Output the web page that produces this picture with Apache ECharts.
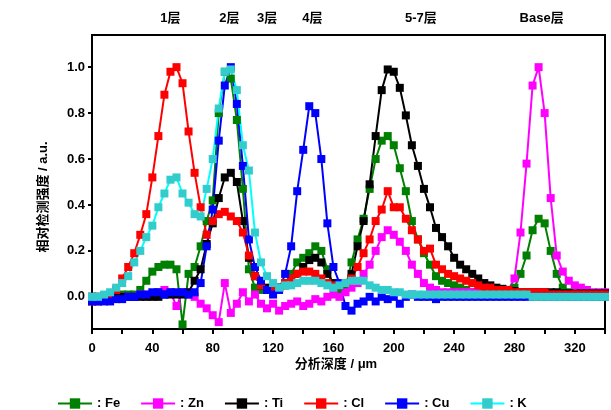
<!DOCTYPE html>
<html>
<head>
<meta charset="utf-8">
<script src="https://cdn.jsdelivr.net/npm/echarts@6/dist/echarts.min.js"></script>
<style type="text/css">
  html, body { margin:0; padding:0; background:#fff; }
  #chart { width:611px; height:410px; }
</style>
</head>
<body>
<div id="chart"></div>
<script type="text/javascript">
// 分析深度 (μm)
var depth = [0,4,8,12,16,20,24,28,32,36,
  40,44,48,52,56,60,64,68,72,76,
  80,84,88,92,96,100,104,108,112,116,
  120,124,128,132,136,140,144,148,152,156,
  160,164,168,172,176,180,184,188,192,196,
  200,204,208,212,216,220,224,228,232,236,
  240,244,248,252,256,260,264,268,272,276,
  280,284,288,292,296,300,304,308,312,316,
  320,324,328,332,336,340];

// 相对检测强度
var fe = [0.00,0.00,0.00,0.00,0.00,0.01,0.01,0.01,0.03,0.07,
  0.11,0.13,0.14,0.14,0.12,-0.12,0.10,0.13,0.22,0.33,
  0.42,0.80,0.98,0.95,0.77,0.47,0.12,0.04,0.03,0.03,
  0.03,0.04,0.06,0.10,0.15,0.17,0.19,0.22,0.20,0.12,
  0.05,0.03,0.04,0.15,0.25,0.34,0.47,0.60,0.68,0.70,
  0.66,0.56,0.46,0.33,0.25,0.19,0.14,0.09,0.07,0.06,
  0.05,0.04,0.03,0.02,0.02,0.02,0.02,0.02,0.02,0.02,
  0.04,0.10,0.18,0.29,0.34,0.32,0.20,0.10,0.04,0.02,
  0.01,0.01,0.01,0.01,0.01,0.01];
var zn = [0.00,0.00,0.00,0.00,0.00,0.00,0.00,0.00,0.01,0.01,
  0.01,0.02,0.03,0.02,-0.04,0.02,0.01,0.00,-0.03,-0.05,
  -0.08,-0.11,0.06,-0.07,-0.03,0.02,-0.02,0.01,-0.03,-0.05,
  -0.03,-0.06,-0.04,-0.03,-0.02,-0.04,-0.03,-0.01,-0.02,0.00,
  0.01,0.00,0.02,0.04,0.06,0.10,0.14,0.20,0.26,0.29,
  0.27,0.24,0.20,0.14,0.10,0.06,0.04,0.03,0.02,0.02,
  0.02,0.02,0.02,0.02,0.02,0.02,0.02,0.02,0.02,0.03,
  0.08,0.28,0.58,0.92,1.00,0.80,0.43,0.18,0.11,0.07,
  0.05,0.04,0.03,0.02,0.02,0.02];
var ti = [0.00,0.00,0.00,0.00,0.00,0.00,0.00,0.00,0.00,0.00,
  0.00,0.00,0.01,0.01,0.01,0.01,0.02,0.07,0.12,0.23,
  0.32,0.43,0.52,0.54,0.50,0.33,0.17,0.09,0.05,0.04,
  0.04,0.04,0.05,0.07,0.10,0.13,0.16,0.17,0.15,0.10,
  0.06,0.05,0.06,0.10,0.22,0.33,0.49,0.70,0.90,0.99,
  0.98,0.91,0.79,0.66,0.57,0.47,0.39,0.30,0.26,0.22,
  0.17,0.14,0.12,0.10,0.08,0.06,0.05,0.04,0.035,0.03,
  0.025,0.02,0.02,0.02,0.02,0.02,0.02,0.02,0.015,0.015,
  0.015,0.015,0.015,0.015,0.015,0.015];
var cl = [-0.02,-0.02,-0.01,0.00,0.03,0.08,0.13,0.19,0.27,0.36,
  0.52,0.70,0.88,0.98,1.00,0.93,0.72,0.54,0.39,0.27,
  0.33,0.36,0.37,0.35,0.33,0.28,0.18,0.09,0.05,0.03,
  0.03,0.04,0.06,0.08,0.10,0.11,0.11,0.10,0.08,0.06,
  0.05,0.05,0.06,0.08,0.13,0.19,0.25,0.33,0.38,0.46,
  0.39,0.39,0.34,0.29,0.25,0.20,0.21,0.14,0.12,0.10,
  0.09,0.08,0.07,0.06,0.05,0.04,0.04,0.03,0.03,0.03,
  0.02,0.02,0.02,0.02,0.02,0.02,0.01,0.01,0.01,0.01,
  0.01,0.01,0.01,0.01,0.01,0.01];
var cu = [-0.02,-0.02,-0.02,-0.02,-0.01,-0.01,0.00,0.00,0.01,0.01,
  0.02,0.02,0.01,0.02,0.02,0.02,0.01,0.02,0.06,0.22,
  0.38,0.68,0.92,1.00,0.84,0.57,0.25,0.13,0.07,0.03,
  0.01,0.03,0.10,0.22,0.46,0.64,0.83,0.80,0.60,0.32,
  0.13,0.06,-0.04,-0.06,-0.03,-0.02,0.00,-0.02,0.00,-0.01,
  0.00,-0.03,0.00,0.01,0.00,0.00,0.00,-0.01,0.00,0.00,
  0.00,0.00,0.00,0.00,0.00,0.00,0.00,0.00,0.00,0.00,
  0.00,0.00,0.00,0.00,0.00,0.00,0.00,0.00,0.00,0.00,
  0.00,0.00,0.00,0.00,0.00,0.00];
var k = [0.00,0.00,0.01,0.02,0.04,0.06,0.09,0.15,0.20,0.26,
  0.31,0.39,0.45,0.51,0.52,0.45,0.41,0.36,0.35,0.47,
  0.60,0.82,0.98,0.99,0.90,0.66,0.55,0.28,0.15,0.09,
  0.06,0.04,0.05,0.05,0.06,0.07,0.07,0.07,0.06,0.05,
  0.04,0.05,0.06,0.07,0.07,0.07,0.05,0.04,0.03,0.03,
  0.02,0.02,0.01,0.01,0.01,0.01,0.01,0.01,0.01,0.01,
  0.01,0.01,0.01,0.01,0.01,0.01,0.01,0.01,0.01,0.01,
  0.01,0.01,0.01,0.00,0.00,0.00,0.00,0.00,0.00,0.00,
  0.00,0.00,0.00,0.00,0.00,0.00];

// 刻度
var xTicks = [0,20,40,60,80,100,120,140,160,180,200,220,240,260,280,300,320,340];
var xLabels = [0,40,80,120,160,200,240,280,320];
var yTicks = [0,0.2,0.4,0.6,0.8,1.0];

// 顶部层标注
var layerNames = ['1层','2层','3层','4层','5-7层','Base层'];
var layerDepth = [52,91,116,146,218,298];

var FONT = '"Liberation Sans", "Noto Sans CJK SC", sans-serif';

function pairs(vals){
  var out = [];
  for(var i=0;i<depth.length;i++){
    out.push([depth[i], vals[i]]);
  }
  return out;
}

function line(name, vals, lineColor, markColor){
  return {
    name: name,
    type: 'line',
    data: pairs(vals),
    symbol: 'rect',
    symbolSize: 8,
    showAllSymbol: true,
    lineStyle: { color: lineColor, width: 2 },
    itemStyle: { color: markColor },
    emphasis: { disabled: true }
  };
}

var myChart = echarts.init(document.getElementById('chart'));
myChart.setOption({
  animation: false,
  grid: {
    left: 92, right: 6, top: 35, bottom: 81,
    show: true, borderColor: '#000', borderWidth: 2
  },
  legend: {
    left: 52, top: 392,
    itemWidth: 34, itemHeight: 13, itemGap: 20,
    formatter: ': {name}',
    textStyle: { color: '#000', fontWeight: 'bold', fontSize: 13, fontFamily: FONT },
    data: ['Fe','Zn','Ti','Cl','Cu','K']
  },
  xAxis: {
    type: 'value',
    min: 0, max: 340,
    axisLine: { onZero: false, lineStyle: { color: '#000', width: 2 } },
    axisTick: { customValues: xTicks, length: 5, lineStyle: { color: '#000', width: 2 } },
    axisLabel: {
      customValues: xLabels, margin: 13,
      color: '#000', fontWeight: 'bold', fontSize: 13, fontFamily: FONT
    },
    splitLine: { show: false }
  },
  yAxis: {
    type: 'value',
    min: -0.14, max: 1.14,
    axisLine: { show: true, lineStyle: { color: '#000', width: 2 } },
    axisTick: { show: true, customValues: yTicks, length: 4, lineStyle: { color: '#000', width: 2 } },
    axisLabel: {
      customValues: yTicks, margin: 7,
      formatter: function(v){ return v.toFixed(1); },
      color: '#000', fontWeight: 'bold', fontSize: 13, fontFamily: FONT
    },
    splitLine: { show: false }
  },
  series: [
    line('Fe', fe, '#008000', '#008000'),
    line('Zn', zn, '#FF00FF', '#FF00FF'),
    line('Ti', ti, '#000000', '#000000'),
    line('Cl', cl, '#FF0000', '#FF0000'),
    line('Cu', cu, '#0000FF', '#0000FF'),
    line('K', k, '#00FFFF', '#33CCCC')
  ]
});

// 轴名与层标注
var txt = { fill: '#000', fontWeight: 'bold', fontSize: 13, fontFamily: FONT, align: 'center', verticalAlign: 'middle' };
var g = [
  { type: 'text', x: 336, y: 364, style: Object.assign({ text: '分析深度 / μm' }, txt) },
  { type: 'text', x: 43, y: 197, rotation: Math.PI / 2, style: Object.assign({ text: '相对检测强度 / a.u.' }, txt) }
];
for(var i=0;i<layerNames.length;i++){
  var px = myChart.convertToPixel({ gridIndex: 0 }, [layerDepth[i], 0])[0];
  g.push({ type: 'text', x: px, y: 18, style: Object.assign({ text: layerNames[i] }, txt) });
}
myChart.setOption({ graphic: g });
</script>
</body>
</html>
